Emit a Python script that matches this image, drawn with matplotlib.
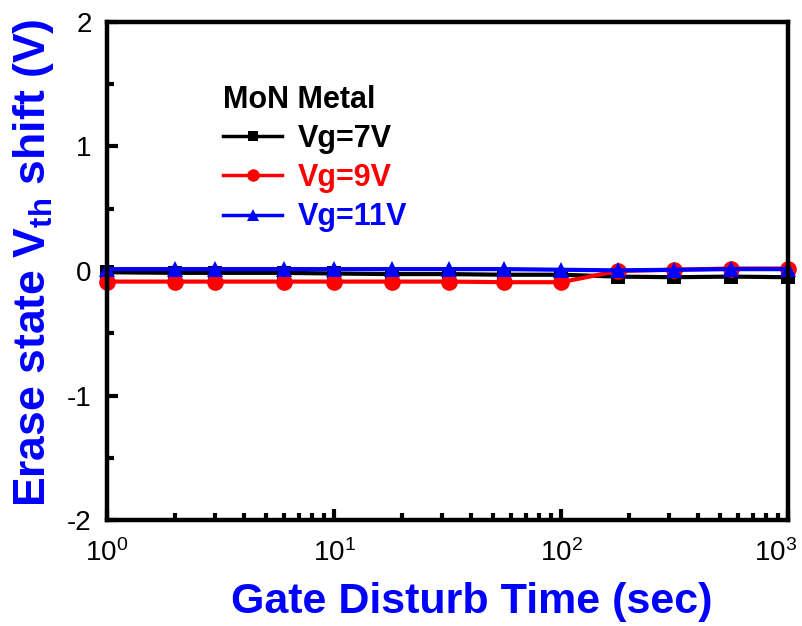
import matplotlib
matplotlib.use("Agg")
import matplotlib.pyplot as plt
from matplotlib.ticker import LogLocator, MultipleLocator, NullFormatter
from matplotlib.transforms import ScaledTranslation

plt.rcParams['font.family'] = ['Liberation Sans', 'DejaVu Sans']
plt.rcParams['mathtext.fontset'] = 'custom'
plt.rcParams['mathtext.rm'] = 'Liberation Sans'
plt.rcParams['mathtext.bf'] = 'Liberation Sans:bold'
plt.rcParams['mathtext.it'] = 'Liberation Sans:italic'
plt.rcParams['axes.unicode_minus'] = False

time_s = [1, 2, 3, 6, 10, 18, 32, 56, 100, 178, 316, 562, 1000]
vg7 = [-0.01, -0.015, -0.015, -0.015, -0.02, -0.025, -0.025, -0.03, -0.03, -0.045, -0.05, -0.045, -0.05]
vg9 = [-0.085, -0.085, -0.085, -0.085, -0.085, -0.085, -0.085, -0.09, -0.09, 0.0, 0.01, 0.02, 0.02]
vg11 = [0.015, 0.015, 0.015, 0.015, 0.015, 0.015, 0.015, 0.015, 0.01, 0.005, 0.01, 0.015, 0.015]

series = [
    ("Vg=7V", vg7, 'black', 's', 10),
    ("Vg=9V", vg9, 'red', 'o', 12),
    ("Vg=11V", vg11, 'blue', '^', 12),
]

fig = plt.figure(figsize=(8.03, 6.26), dpi=100)
ax = fig.add_axes([0.1333, 0.1693, 0.848, 0.7956])

for label, vals, color, marker, ms in series:
    ax.plot(time_s, vals, color=color, marker=marker, markersize=ms, linewidth=3,
            markeredgewidth=0, label=label, clip_on=False)

ax.set_xscale('log')
ax.set_xlim(1, 1000)
ax.set_ylim(-2, 2)

ax.yaxis.set_major_locator(MultipleLocator(1))
ax.yaxis.set_minor_locator(MultipleLocator(0.5))
ax.xaxis.set_major_locator(LogLocator(base=10))
ax.xaxis.set_minor_locator(LogLocator(base=10, subs=range(2, 10)))
ax.xaxis.set_minor_formatter(NullFormatter())

for s in ax.spines.values():
    s.set_linewidth(3.2)

ax.tick_params(axis='both', which='major', direction='in', length=8, width=3,
               labelsize=20, top=False, right=False)
ax.tick_params(axis='both', which='minor', direction='in', length=5, width=3,
               top=False, right=False)
ax.tick_params(axis='y', which='major', pad=11)
ax.tick_params(axis='x', which='major', pad=14)
for t in ax.xaxis.get_minor_ticks() + ax.yaxis.get_minor_ticks():
    t.tick1line.set_solid_capstyle('round')

ax.set_xlabel('Gate Disturb Time (sec)', fontsize=31, fontweight='bold', color='blue')
ax.xaxis.set_label_coords(0.536, -0.124)
ax.set_ylabel(r'Erase state V$_{\mathbf{th}}$ shift (V)', fontsize=32, fontweight='bold',
              color='blue')
ax.yaxis.set_label_coords(-0.075, 0.516)

leg = ax.legend(loc='upper left', bbox_to_anchor=(0.170, 0.874), frameon=False,
                title='MoN Metal', prop={'weight': 'bold', 'size': 22},
                title_fontproperties={'weight': 'bold', 'size': 22},
                handlelength=1.95, handletextpad=0.5, labelspacing=0.3,
                borderpad=0, borderaxespad=0,
                markerscale=0.75, labelcolor='linecolor')
leg._legend_box.align = 'left'
for h in leg.legend_handles:
    h.set_linewidth(2.5)

fig.canvas.draw()
for tk in ax.xaxis.get_major_ticks():
    if abs(tk.get_loc() - 1000) < 1e-6:
        lbl = tk.label1
        lbl.set_transform(lbl.get_transform() + ScaledTranslation(-9 / 72, 0, fig.dpi_scale_trans))

fig.savefig('out.png', dpi=100)
